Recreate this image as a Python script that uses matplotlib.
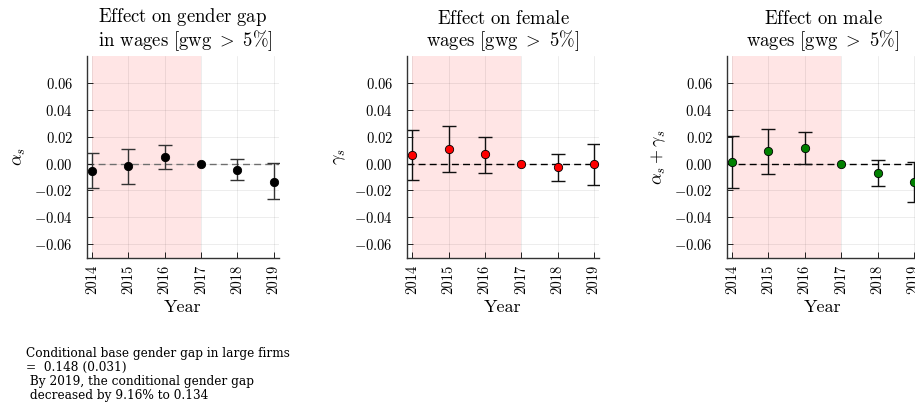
import numpy as np
import matplotlib
matplotlib.use("Agg")
import matplotlib.pyplot as plt

plt.rcParams["mathtext.fontset"] = "cm"
plt.rcParams["font.family"] = "serif"
plt.rcParams["font.serif"] = ["cmr10", "DejaVu Serif"]
plt.rcParams["axes.formatter.use_mathtext"] = True

years = np.array([2014, 2015, 2016, 2017, 2018, 2019])
yticks = [-0.06, -0.04, -0.02, 0.0, 0.02, 0.04, 0.06]
ytick_labels = [r"$-0.06$", r"$-0.04$", r"$-0.02$", r"$0.00$", r"$0.02$", r"$0.04$", r"$0.06$"]

# alpha_s: effect on gender gap
gap_est = np.array([-0.0055, -0.0018, 0.0052, 0.0, -0.0045, -0.0134])
gap_hi = np.array([0.0082, 0.0110, 0.0141, np.nan, 0.0032, 0.0002])
gap_lo = np.array([-0.0180, -0.0149, -0.0040, np.nan, -0.0122, -0.0267])

# gamma_s: effect on female wages
fem_est = np.array([0.0064, 0.0111, 0.0069, 0.0, -0.0025, -0.0005])
fem_hi = np.array([0.0252, 0.0279, 0.0198, np.nan, 0.0074, 0.0146])
fem_lo = np.array([-0.0122, -0.0062, -0.0067, np.nan, -0.0126, -0.0159])

# alpha_s + gamma_s: effect on male wages
male_est = np.array([0.0015, 0.0091, 0.0119, 0.0, -0.0067, -0.0139])
male_hi = np.array([0.0205, 0.0257, 0.0235, np.nan, 0.0030, 0.0012])
male_lo = np.array([-0.0178, -0.0074, 0.0000, np.nan, -0.0168, -0.0287])

titles = [
    r"$\mathrm{Effect\ on\ gender\ gap}$" + "\n" + r"$\mathrm{\ in\ wages\ [gwg\ >\ 5\%]}$",
    r"$\mathrm{Effect\ on\ female}$" + "\n" + r"$\mathrm{wages\ [gwg\ >\ 5\%]}$",
    r"$\mathrm{Effect\ on\ male}$" + "\n" + r"$\mathrm{wages\ [gwg\ >\ 5\%]}$",
]
ylabels = [r"$\alpha_s$", r"$\gamma_s$", r"$\alpha_s + \gamma_s$"]
colors = ["black", "red", "green"]
err_colors = ["#333333", "#111111", "#111111"]
zero_colors = ["#777777", "black", "black"]

note = ("Conditional base gender gap in large firms\n=  0.148 (0.031)\n"
        " By 2019, the conditional gender gap\n decreased by 9.16% to 0.134")

fig = plt.figure(figsize=(9.15, 4.05), dpi=100)
lefts = [0.0947, 0.4445, 0.7942]
series = [(gap_est, gap_lo, gap_hi), (fem_est, fem_lo, fem_hi), (male_est, male_lo, male_hi)]

for i, (est, lo, hi) in enumerate(series):
    ax = fig.add_axes([lefts[i], 0.3637, 0.2105, 0.498])
    ax.axvspan(2014, 2017, color="red", alpha=0.1, lw=0, zorder=0)
    ax.axhline(0, color=zero_colors[i], ls=(0, (5, 3)), lw=1.0, zorder=1)
    yerr = np.vstack([est - lo, hi - est])
    ax.errorbar(years, est, yerr=yerr, fmt="none", ecolor=err_colors[i],
                elinewidth=1.0, capsize=5, capthick=1.0, zorder=2)
    ax.plot(years, est, "o", color=colors[i], mec="black", mew=0.6, ms=6, zorder=3)

    ax.set_xlim(2013.85, 2019.15)
    ax.set_ylim(-0.07, 0.08)
    ax.set_xticks(years)
    ax.set_xticklabels([str(y) for y in years], rotation=90, fontsize=10.5)
    ax.set_yticks(yticks)
    ax.set_yticklabels(ytick_labels, fontsize=10.5)
    ax.tick_params(axis="both", direction="in", length=4, width=0.6)
    ax.tick_params(axis="y", pad=10)
    ax.tick_params(axis="x", pad=5)
    ax.grid(True, color="black", alpha=0.1, lw=0.5)
    for s in ["top", "right"]:
        ax.spines[s].set_visible(False)
    for s in ["left", "bottom"]:
        ax.spines[s].set_color("#333333")
        ax.spines[s].set_linewidth(1.0)
    ax.set_title(titles[i], fontsize=13.5, pad=7, linespacing=1.0)
    ax.set_xlabel("Year", fontsize=13, labelpad=4)
    ax.set_ylabel(ylabels[i], fontsize=13, labelpad=4)

fig.text(0.028, 1 - 347 / 405, note, fontsize=8.7, family="DejaVu Serif",
         va="top", ha="left", linespacing=1.1)

fig.savefig("out.png", dpi=100)
